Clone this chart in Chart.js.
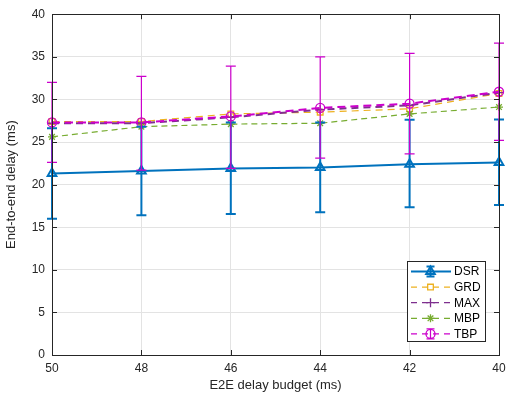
<!DOCTYPE html>
<html>
<head>
<meta charset="utf-8">
<script src="https://cdn.jsdelivr.net/npm/chart.js@4/dist/chart.umd.min.js"></script>
<style>
  html, body { margin: 0; padding: 0; background: #fff; }
  #wrap { width: 506px; height: 397px; }
</style>
</head>
<body>
<div id="wrap"><canvas id="chart" width="506" height="397"></canvas></div>
<script>
// budgets on the x axis (reversed, 50 -> 40)
const budgets = [50, 48, 46, 44, 42, 40];
const yTicks = [0, 5, 10, 15, 20, 25, 30, 35, 40];

const dsr = [21.3, 21.6, 21.9, 22.0, 22.4, 22.6];
const dsrLow = [16.0, 16.4, 16.55, 16.75, 17.35, 17.6];
const dsrHigh = [26.6, 26.8, 27.3, 27.3, 27.6, 27.65];

const grd = [27.4, 27.4, 28.3, 28.5, 28.9, 30.7];
const maxv = [27.2, 27.2, 27.9, 28.8, 29.3, 30.8];
const mbp = [25.6, 26.8, 27.1, 27.2, 28.3, 29.1];

const tbp = [27.3, 27.3, 28.0, 29.0, 29.5, 30.9];
const tbpLow = [22.6, 21.7, 21.9, 23.1, 23.6, 25.2];
const tbpHigh = [32.0, 32.7, 33.9, 35.0, 35.4, 36.6];

const FONT = 'Liberation Sans, Arial, sans-serif';

function pts(vals) {
  return budgets.map((b, i) => ({ x: b, y: vals[i] }));
}

const errBars = {
  DSR: { low: dsrLow, high: dsrHigh, width: 2 },
  TBP: { low: tbpLow, high: tbpHigh, width: 1.2 }
};

const errorBarPlugin = {
  id: 'errorBars',
  afterDatasetsDraw(chart) {
    const ctx = chart.ctx;
    const xs = chart.scales.x, ys = chart.scales.y;
    ['DSR', 'TBP'].forEach(name => {
      const ds = chart.data.datasets.find(d => d.label === name);
      const eb = errBars[name];
      ctx.save();
      ctx.strokeStyle = ds.borderColor;
      ctx.lineWidth = eb.width;
      budgets.forEach((b, i) => {
        const x = xs.getPixelForValue(b);
        const y1 = ys.getPixelForValue(eb.low[i]);
        const y2 = ys.getPixelForValue(eb.high[i]);
        ctx.beginPath();
        ctx.moveTo(x, y1); ctx.lineTo(x, y2);
        ctx.moveTo(x - 5, y1); ctx.lineTo(x + 5, y1);
        ctx.moveTo(x - 5, y2); ctx.lineTo(x + 5, y2);
        ctx.stroke();
      });
      ctx.restore();
    });
  }
};

const frameLegendPlugin = {
  id: 'frameLegend',
  afterDraw(chart) {
    const ctx = chart.ctx;
    const a = chart.chartArea;
    const xs = chart.scales.x, ys = chart.scales.y;
    ctx.save();
    // inward tick marks
    ctx.strokeStyle = '#262626';
    ctx.lineWidth = 1;
    ctx.beginPath();
    budgets.forEach(b => {
      const x = Math.round(xs.getPixelForValue(b)) + 0.5;
      ctx.moveTo(x, a.bottom); ctx.lineTo(x, a.bottom - 5);
      ctx.moveTo(x, a.top); ctx.lineTo(x, a.top + 5);
    });
    yTicks.forEach(v => {
      const y = Math.round(ys.getPixelForValue(v)) + 0.5;
      ctx.moveTo(a.left, y); ctx.lineTo(a.left + 5, y);
      ctx.moveTo(a.right, y); ctx.lineTo(a.right - 5, y);
    });
    ctx.stroke();
    ctx.strokeRect(Math.round(a.left) + 0.5, Math.round(a.top) + 0.5,
      Math.round(a.right - a.left), Math.round(a.bottom - a.top));

    // legend box, lower right inside the axes
    const lx = 407, ly = 261, lw = 78, lh = 80;
    ctx.fillStyle = '#fff';
    ctx.fillRect(lx, ly, lw, lh);
    ctx.strokeStyle = '#262626';
    ctx.lineWidth = 1;
    ctx.strokeRect(lx + 0.5, ly + 0.5, lw, lh);
    ctx.font = '12px ' + FONT;
    ctx.textBaseline = 'middle';
    chart.data.datasets.forEach((ds, i) => {
      const y = ly + 10.5 + i * 15.6;
      ctx.strokeStyle = ds.borderColor;
      ctx.lineWidth = ds.label === 'DSR' ? 2 : 1.2;
      ctx.setLineDash(ds.borderDash ? [6, 5] : []);
      ctx.beginPath();
      ctx.moveTo(lx + 4, y); ctx.lineTo(lx + 44, y);
      ctx.stroke();
      ctx.setLineDash([]);
      if (errBars[ds.label]) {
        ctx.lineWidth = errBars[ds.label].width;
        ctx.beginPath();
        ctx.moveTo(lx + 23.5, y - 5); ctx.lineTo(lx + 23.5, y + 5);
        ctx.moveTo(lx + 19.5, y - 5); ctx.lineTo(lx + 27.5, y - 5);
        ctx.moveTo(lx + 19.5, y + 5); ctx.lineTo(lx + 27.5, y + 5);
        ctx.stroke();
      }
      ctx.fillStyle = 'rgba(0,0,0,0)';
      ctx.lineWidth = ds.pointBorderWidth;
      Chart.helpers.drawPoint(ctx, {
        pointStyle: ds.pointStyle, radius: ds.pointRadius, borderWidth: ds.pointBorderWidth, rotation: 0
      }, lx + 23.5, y);
      ctx.fillStyle = '#000';
      ctx.fillText(ds.label, lx + 47, y + 0.5);
    });
    ctx.restore();
  }
};

function line(label, vals, color, opts) {
  return Object.assign({
    label: label,
    data: pts(vals),
    borderColor: color,
    backgroundColor: 'rgba(0,0,0,0)',
    pointBorderColor: color,
    pointBackgroundColor: 'rgba(0,0,0,0)',
    pointBorderWidth: 1.3,
    pointRadius: 4,
    borderWidth: 1.2,
    tension: 0,
    clip: false
  }, opts);
}

new Chart(document.getElementById('chart'), {
  type: 'line',
  data: {
    datasets: [
      line('DSR', dsr, '#0072BD', { pointStyle: 'triangle', borderWidth: 2, pointRadius: 5, pointBorderWidth: 2, order: 4 }),
      line('GRD', grd, '#EDB120', { pointStyle: 'rect', borderDash: [7, 5], order: 3 }),
      line('MAX', maxv, '#7E2F8E', { pointStyle: 'cross', borderDash: [7, 5], borderWidth: 2, pointRadius: 4.5, order: 2 }),
      line('MBP', mbp, '#77AC30', { pointStyle: 'star', borderDash: [6, 4], order: 1 }),
      line('TBP', tbp, '#CC00CC', { pointStyle: 'circle', borderDash: [8, 5], borderWidth: 2, pointRadius: 4.5, order: 0 })
    ]
  },
  options: {
    responsive: false,
    animation: false,
    layout: { padding: { top: 14, right: 0, left: 0, bottom: 0 } },
    plugins: { legend: { display: false }, tooltip: { enabled: false } },
    scales: {
      x: {
        type: 'linear', reverse: true, min: 40, max: 50,
        afterBuildTicks: s => { s.ticks = budgets.map(v => ({ value: v })); },
        afterFit: s => { s.height = 42; s.paddingRight = 7; s.paddingLeft = 0; },
        grid: { color: '#e3e3e3', drawTicks: false },
        border: { display: false },
        ticks: { color: '#262626', font: { family: FONT, size: 12 }, padding: 6, maxRotation: 0 },
        title: { display: true, text: 'E2E delay budget (ms)', color: '#262626', font: { family: FONT, size: 13 }, padding: { top: 2 } }
      },
      y: {
        min: 0, max: 40,
        afterBuildTicks: s => { s.ticks = yTicks.map(v => ({ value: v })); },
        afterFit: s => { s.width = 52; },
        grid: { color: '#e3e3e3', drawTicks: false },
        border: { display: false },
        ticks: { color: '#262626', font: { family: FONT, size: 12 }, padding: 7 },
        title: { display: true, text: 'End-to-end delay (ms)', color: '#262626', font: { family: FONT, size: 13 }, padding: { bottom: 2 } }
      }
    }
  },
  plugins: [errorBarPlugin, frameLegendPlugin]
});
</script>
</body>
</html>
